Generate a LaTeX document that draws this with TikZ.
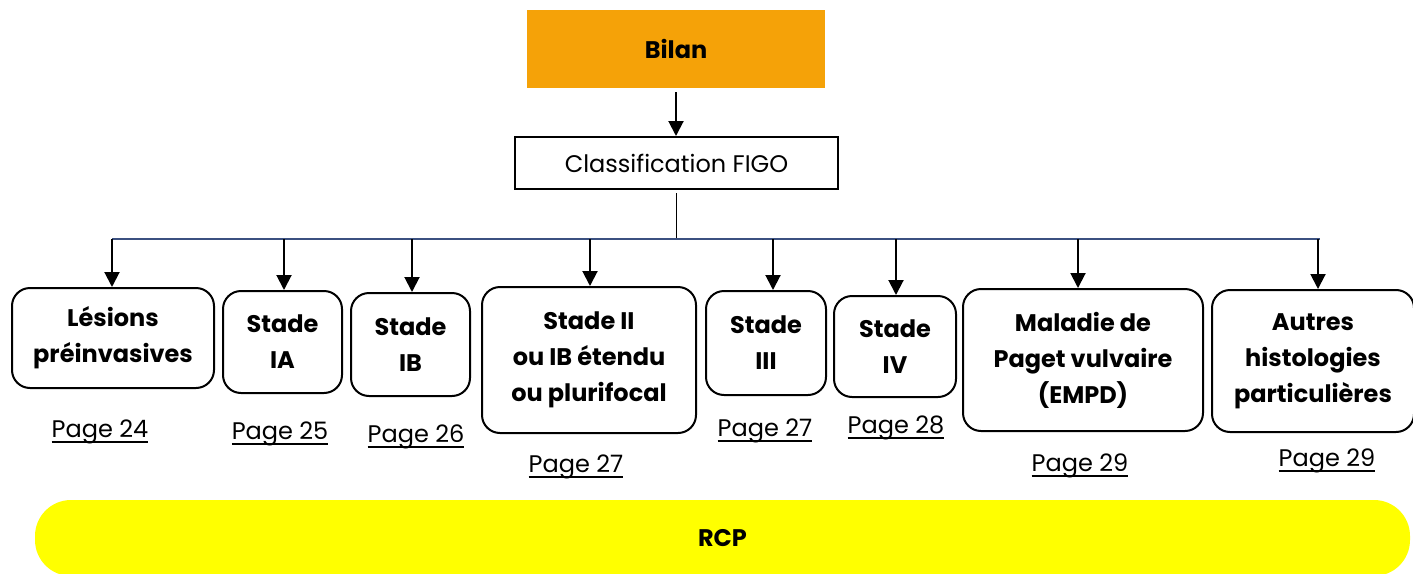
\documentclass[tikz,border=0pt]{standalone}
\usepackage{fontspec}
\setmainfont{Poppins}
\usepackage{xcolor}
\usetikzlibrary{arrows.meta}
\usetikzlibrary{positioning}

\definecolor{bilanorange}{HTML}{F5A208}
\definecolor{rcpyellow}{HTML}{FFFF00}
\definecolor{barblue}{HTML}{3B5080}

\newcommand{\pageul}[1]{\setbox0\hbox{#1}\rlap{\raisebox{-5pt}{\rule{\wd0}{1.6pt}}}\box0}

\begin{document}
\begin{tikzpicture}[
    x=1pt, y=-1pt,
    every node/.style={font=\fontsize{24}{36}\selectfont, align=center, inner sep=0pt},
    stadebox/.style={rectangle, rounded corners=18pt, draw, line width=2pt, font=\fontsize{24}{36}\selectfont\bfseries},
    pagelabel/.style={font=\fontsize{24}{36}\selectfont},
    arr/.style={line width=2pt, -{Triangle[length=15pt, width=15pt]}},
  ]
  \useasboundingbox (0,0) rectangle (1413,573);

  \node[fill=bilanorange, minimum width=298pt, minimum height=78pt, font=\fontsize{24}{36}\selectfont\bfseries] (bilan) at (676,49) {Bilan};
  \node[draw, line width=2pt, minimum width=323pt, minimum height=52pt] (figo) at (676.5,163) {Classification FIGO};

  \node[stadebox, minimum width=202pt, minimum height=100pt] (s1) at (113,338)   {Lésions\\préinvasives};
  \node[stadebox, minimum width=119pt, minimum height=102pt] (s2) at (282.5,342) {Stade\\IA};
  \node[stadebox, minimum width=119pt, minimum height=103pt] (s3) at (410.5,344.5) {Stade\\IB};
  \node[stadebox, minimum width=214pt, minimum height=146pt] (s4) at (589,360)   {Stade II\\ou IB étendu\\ou plurifocal};
  \node[stadebox, minimum width=120pt, minimum height=104pt] (s5) at (766,343)   {Stade\\III};
  \node[stadebox, minimum width=122pt, minimum height=101pt] (s6) at (895,346.5) {Stade\\IV};
  \node[stadebox, minimum width=240pt, minimum height=142pt] (s7) at (1083,360)  {Maladie de\\Paget vulvaire\\(EMPD)};
  \node[stadebox, minimum width=202pt, minimum height=142pt] (s8) at (1313,361)  {Autres\\histologies\\particulières};

  \node[pagelabel] (p1) at (100,432)  {\pageul{Page 24}};
  \node[pagelabel] (p2) at (280,434)  {\pageul{Page 25}};
  \node[pagelabel] (p3) at (416,437)  {\pageul{Page 26}};
  \node[pagelabel] (p4) at (576,467)  {\pageul{Page 27}};
  \node[pagelabel] (p5) at (765,431)  {\pageul{Page 27}};
  \node[pagelabel] (p6) at (896,428)  {\pageul{Page 28}};
  \node[pagelabel] (p7) at (1080,466) {\pageul{Page 29}};
  \node[pagelabel] (p8) at (1327,461) {\pageul{Page 29}};

  \node[fill=rcpyellow, rounded corners=36pt, minimum width=1375pt, minimum height=76pt, font=\fontsize{24}{36}\selectfont\bfseries] (rcp) at (722.5,538) {RCP};

  % bar and branch points
  \coordinate (bar-l) at (112,239);
  \coordinate (bar-r) at (1320,239);
  \coordinate (t1) at (112,239);
  \coordinate (t2) at (284,239);
  \coordinate (t3) at (412,239);
  \coordinate (t4) at (590,239);
  \coordinate (t5) at (773,239);
  \coordinate (t6) at (896,239);
  \coordinate (t7) at (1078,239);
  \coordinate (t8) at (1318,239);

  \draw[arr] (bilan.south |- 0,92) -- (figo.north -| bilan.south);
  \draw[line width=1.5pt] (figo.south |- 0,193) -- (figo.south |- bar-l);
  \draw[barblue, line width=2pt] (bar-l) -- (bar-r);

  \foreach \i in {1,...,8}
    \draw[arr] (t\i) -- (t\i |- s\i.north);

\end{tikzpicture}
\end{document}
